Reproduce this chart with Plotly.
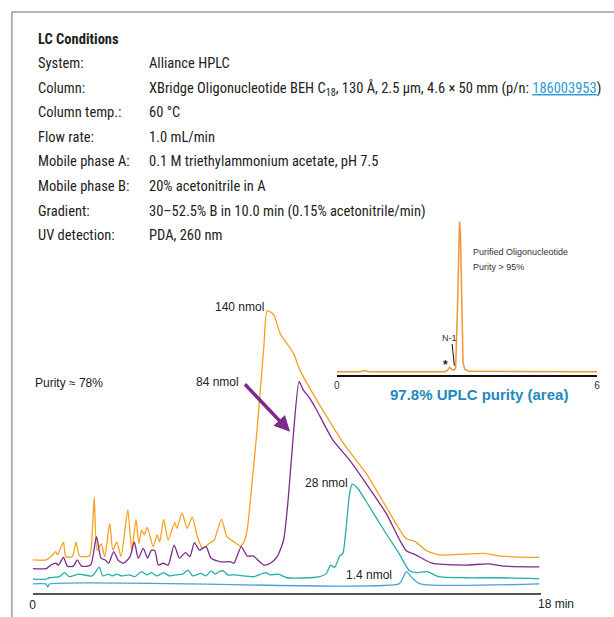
import plotly.graph_objects as go

W, H = 614, 617

# LC conditions table (label, value)
condition_labels = [
    "System:",
    "Column:",
    "Column temp.:",
    "Flow rate:",
    "Mobile phase A:",
    "Mobile phase B:",
    "Gradient:",
    "UV detection:",
]
condition_values = [
    "Alliance HPLC",
    "XBridge Oligonucleotide BEH C<sub>18</sub>, 130 Å, 2.5 µm, 4.6 × 50 mm "
    "(p/n: <span style='color:#2a9bd8'><u>186003953</u></span>)",
    "60 °C",
    "1.0 mL/min",
    "0.1 M triethylammonium acetate, pH 7.5",
    "20% acetonitrile in A",
    "30–52.5% B in 10.0 min (0.15% acetonitrile/min)",
    "PDA, 260 nm",
]

# main chromatograms: retention time (min) vs absorbance (a.u.)
time_140 = [0.00, 0.47, 0.64, 0.82, 0.88, 1.09, 1.17, 1.40, 1.54, 1.66, 2.01,
            2.08, 2.18, 2.28, 2.43, 2.55, 2.73, 2.84, 2.98, 3.13, 3.37, 3.51,
            3.66, 3.76, 3.86, 3.95, 4.06, 4.27, 4.41, 4.50, 4.64, 4.80, 5.03,
            5.11, 5.29, 5.47, 5.65, 5.85, 6.02, 6.26, 6.43, 6.69, 6.88, 7.13,
            7.34, 7.47, 7.60, 7.78, 7.95, 8.19, 8.31, 8.54, 8.77, 9.24, 9.47,
            10.06, 10.64, 11.05, 11.81, 12.52, 13.22, 13.57, 13.92, 14.39,
            15.32, 16.02, 16.49, 17.95]
abs_140 = [9.1, 9.1, 10.0, 11.4, 10.5, 14.0, 10.0, 10.0, 14.0, 10.2, 10.2,
           12.8, 26.4, 11.8, 13.5, 10.0, 19.2, 11.8, 14.1, 10.0, 22.9, 11.8,
           20.3, 13.7, 17.4, 16.0, 18.1, 12.8, 16.0, 14.1, 20.3, 14.6, 19.4,
           17.8, 22.1, 17.8, 20.9, 15.1, 12.3, 13.7, 14.6, 20.3, 15.5, 14.1,
           13.0, 13.8, 17.4, 31.1, 44.9, 67.9, 77.8, 76.6, 71.5, 66.0, 61.4,
           53.2, 45.8, 40.8, 33.0, 23.8, 15.1, 14.1, 11.8, 10.5,
           10.7, 10.9, 10.2, 9.8]

time_84 = [0.00, 0.47, 0.59, 0.82, 0.91, 1.09, 1.23, 1.44, 1.58, 1.73, 2.05,
           2.26, 2.42, 2.57, 2.69, 2.87, 3.02, 3.22, 3.45, 3.60, 3.74, 3.92,
           4.07, 4.21, 4.33, 4.45, 4.62, 4.80, 5.01, 5.20, 5.41, 5.57, 5.73,
           5.91, 6.14, 6.32, 6.67, 7.02, 7.13, 7.39, 7.60, 7.81, 8.19, 8.42,
           8.66, 8.89, 9.06, 9.24, 9.44, 9.59, 9.82, 10.06, 10.64, 11.23,
           11.81, 12.52, 13.22, 13.57, 14.15, 15.32, 16.14, 16.73, 17.95]
abs_84 = [6.7, 6.7, 7.4, 8.2, 7.7, 9.8, 7.4, 7.4, 9.1, 7.4, 7.7,
          15.5, 9.6, 9.1, 8.2, 11.4, 9.1, 8.2, 10.0, 14.1, 9.6, 12.3,
          9.6, 11.8, 11.6, 7.7, 8.2, 7.7, 13.2, 9.6, 11.1, 10.0, 13.9,
          11.8, 12.8, 9.6, 8.6, 8.6, 8.2, 12.8, 10.2, 10.2, 7.7, 8.2,
          10.0, 14.6, 26.5, 44.0, 58.2, 55.9, 53.6, 50.4, 42.1, 36.6,
          30.2, 22.0, 11.8, 10.5, 8.2, 7.7, 8.0, 7.4, 7.2]

time_28 = [0.00, 0.47, 0.59, 0.94, 1.13, 1.29, 1.64, 2.11, 2.36, 2.48, 2.69,
           2.81, 2.98, 3.16, 3.41, 3.62, 3.86, 4.04, 4.21, 4.39, 4.64, 4.85,
           5.09, 5.32, 5.50, 5.67, 5.96, 6.14, 6.32, 6.47, 6.61, 6.76, 6.90,
           7.19, 7.43, 7.84, 8.25, 8.42, 8.71, 9.01, 9.82, 10.18, 10.41,
           10.55, 10.70, 10.88, 10.99, 11.11, 11.23, 11.32, 11.52, 11.93,
           12.52, 12.98, 13.33, 13.57, 13.98, 14.39, 15.32, 16.49, 17.95]
abs_28 = [3.8, 3.8, 4.2, 4.5, 5.6, 4.5, 5.2, 4.7, 7.1, 4.7, 5.2,
          4.7, 5.2, 4.7, 5.0, 4.5, 5.9, 5.0, 5.6, 4.7, 5.6, 4.7,
          5.0, 5.2, 6.3, 4.7, 5.4, 4.7, 6.1, 5.2, 5.9, 6.1, 5.0,
          5.0, 4.7, 4.5, 5.6, 5.0, 5.2, 4.2, 4.2, 4.5, 5.4,
          7.7, 7.1, 10.2, 10.9, 18.3, 27.5, 30.0, 28.8, 23.8,
          16.4, 10.9, 6.3, 5.6, 5.9, 4.5, 4.2, 4.2, 3.9]

time_1_4 = [0.00, 0.47, 0.53, 0.60, 12.98, 13.10, 13.24, 13.45, 13.74, 17.95]
abs_1_4 = [2.5, 2.5, 1.7, 2.5, 2.5, 3.9, 5.9, 4.1, 2.5, 2.5]

# inset: purified oligonucleotide (UPLC)
time_pure = [0.00, 0.55, 0.62, 0.70, 0.75, 2.50, 2.56, 2.60, 2.65, 2.70,
             2.74, 2.78, 2.81, 2.83, 2.85, 2.88, 2.91, 2.95, 3.05, 6.00]
abs_pure = [2.1, 2.1, 2.8, 2.6, 2.1, 2.1, 3.3, 5.0, 3.5, 3.0,
            4.5, 40.0, 90.0, 97.0, 90.0, 40.0, 8.0, 3.5, 2.3, 2.1]

ORANGE = "#f5a021"
PURPLE = "#7d2a8d"
TEAL = "#22b1a8"
BLUE = "#4aa2d6"
INSET_ORANGE = "#f29536"
TEXT = "#222222"
NARROW = ("Roboto Condensed, DejaVu Sans Condensed, Liberation Sans Narrow, "
          "Arial Narrow, sans-serif")
ARIAL = "Liberation Sans, Arial, sans-serif"


def px_x(px):
    return px / W


def px_y(px):
    return 1 - px / H


def add_traces(fig):
    series = [
        (time_140, abs_140, ORANGE),
        (time_84, abs_84, PURPLE),
        (time_28, abs_28, TEAL),
        (time_1_4, abs_1_4, BLUE),
    ]
    for t, a, color in series:
        fig.add_trace(
            go.Scatter(x=t, y=a, mode="lines",
                       line=dict(color=color, width=1.3, shape="spline",
                                 smoothing=0.6),
                       xaxis="x", yaxis="y", hoverinfo="skip")
        )
    fig.add_trace(
        go.Scatter(x=time_pure, y=abs_pure, mode="lines",
                   line=dict(color=INSET_ORANGE, width=1.5),
                   xaxis="x2", yaxis="y2", hoverinfo="skip")
    )


def add_conditions(fig):
    font = dict(family=NARROW, size=14.5, color=TEXT)
    fig.add_annotation(text="<b>LC Conditions</b>", x=px_x(33), y=px_y(40),
                       xref="paper", yref="paper", xanchor="left",
                       yanchor="middle", showarrow=False, font=font)
    for i, (lab, val) in enumerate(zip(condition_labels, condition_values)):
        y = px_y(64 + i * 24.5)
        fig.add_annotation(text=lab, x=px_x(33), y=y, xref="paper",
                           yref="paper", xanchor="left", yanchor="middle",
                           showarrow=False, font=font)
        fig.add_annotation(text=val, x=px_x(145), y=y, xref="paper",
                           yref="paper", xanchor="left", yanchor="middle",
                           showarrow=False, font=font)


def add_labels(fig):
    font = dict(family=ARIAL, size=12, color=TEXT)
    labels = [
        ("140 nmol", 8.28, 78.9, "right"),
        ("84 nmol", 7.37, 58.2, "right"),
        ("28 nmol", 11.23, 30.2, "right"),
        ("1.4 nmol", 12.81, 5.0, "right"),
        ("Purity ≈ 78%", 0.0, 57.8, "left"),
    ]
    for text, x, y, anchor in labels:
        fig.add_annotation(text=text, x=x, y=y, xref="x", yref="y",
                           xanchor=anchor, yanchor="middle", showarrow=False,
                           font=font)

    # end-of-axis label
    fig.add_annotation(text="18 min", x=px_x(538), y=px_y(604),
                       xref="paper", yref="paper", xanchor="left",
                       yanchor="middle", showarrow=False, font=font)

    # arrow pointing at the 84 nmol trace
    fig.add_annotation(x=9.12, y=44.4, ax=7.47, ay=57.9, xref="x", yref="y",
                       axref="x", ayref="y", text="", showarrow=True,
                       arrowhead=2, arrowsize=0.9, arrowwidth=3.5,
                       arrowcolor=PURPLE)

    # inset annotations
    small = dict(family=ARIAL, size=9, color="#333333")
    fig.add_annotation(text="Purified Oligonucleotide", x=3.09, y=78,
                       xref="x2", yref="y2", xanchor="left",
                       showarrow=False, font=small)
    fig.add_annotation(text="Purity > 95%", x=3.09, y=68.5, xref="x2",
                       yref="y2", xanchor="left", showarrow=False, font=small)
    fig.add_annotation(text="N-1", x=2.59, y=23.4, xref="x2", yref="y2",
                       xanchor="center", showarrow=False, font=small)
    fig.add_annotation(text="<b>*</b>", x=2.50, y=6.5, xref="x2", yref="y2",
                       xanchor="center", showarrow=False,
                       font=dict(family=ARIAL, size=12, color="#222222"))
    fig.add_shape(type="line", x0=2.66, y0=19.6, x1=2.71, y1=5.9,
                  xref="x2", yref="y2", line=dict(color="#111111", width=1))
    fig.add_annotation(text="<b>97.8% UPLC purity (area)</b>",
                       x=px_x(481), y=px_y(394), xref="paper", yref="paper",
                       xanchor="center", yanchor="middle", showarrow=False,
                       font=dict(family=ARIAL, size=15, color="#1f88c0"))


def add_frame(fig):
    frame = dict(color="#9a9a9a", width=1.5)
    fig.add_shape(type="line", x0=px_x(9), y0=px_y(12), x1=1.02, y1=px_y(12),
                  xref="paper", yref="paper", line=frame)
    fig.add_shape(type="line", x0=px_x(9), y0=px_y(12), x1=px_x(9), y1=-0.02,
                  xref="paper", yref="paper", line=frame)


def layout(fig):
    tickfont = dict(family=ARIAL, size=12, color=TEXT)
    fig.update_layout(
        width=W,
        height=H,
        margin=dict(l=0, r=0, t=0, b=0),
        paper_bgcolor="white",
        plot_bgcolor="rgba(0,0,0,0)",
        showlegend=False,
        xaxis=dict(domain=[px_x(30), px_x(543)], range=[0, 18],
                   showline=True, linecolor="#555555", linewidth=2,
                   showgrid=False, zeroline=False, tickvals=[0],
                   ticktext=["0"], tickfont=tickfont, anchor="y",
                   fixedrange=True),
        yaxis=dict(domain=[px_y(593), px_y(230)], range=[0, 100],
                   visible=False, anchor="x", fixedrange=True),
        xaxis2=dict(domain=[px_x(337), px_x(600)], range=[0, 6],
                    showline=True, linecolor="#111111", linewidth=1.5,
                    showgrid=False, zeroline=False, tickvals=[0, 6],
                    tickfont=dict(family=ARIAL, size=10, color="#333333"),
                    anchor="y2", fixedrange=True),
        yaxis2=dict(domain=[px_y(375), px_y(217)], range=[0, 100],
                    visible=False, anchor="x2", fixedrange=True),
    )


def main():
    fig = go.Figure()
    add_traces(fig)
    add_conditions(fig)
    add_labels(fig)
    add_frame(fig)
    layout(fig)
    fig.write_html(
        "out.html",
        config={"displayModeBar": False},
        post_script="document.body.style.margin='0px';",
    )


if __name__ == "__main__":
    main()
